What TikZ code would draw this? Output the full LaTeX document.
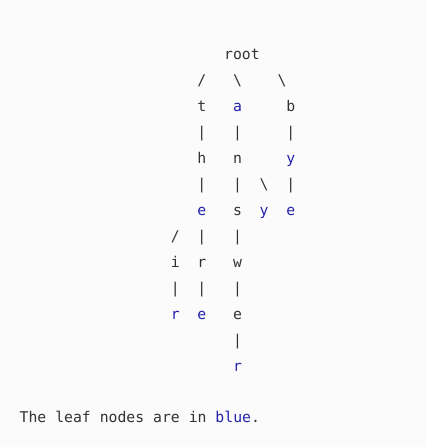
\documentclass[tikz,border=0pt]{standalone}
\usepackage{fontspec}
\newfontfamily\trimono{DejaVu Sans Mono}
\definecolor{txt}{RGB}{51,51,51}
\definecolor{leafblue}{RGB}{34,34,170}
\definecolor{bg}{RGB}{251,251,251}
\newcommand\SP{\hphantom{x}}
\newcommand\LF[1]{\textcolor{leafblue}{#1}}
\newcommand\BS{\textbackslash}
\tikzset{
  rowtext/.style={font=\trimono\fontsize{14.78}{17}\selectfont, text=txt, anchor=base west, inner sep=0pt}
}
\begin{document}
\begin{tikzpicture}[x=1pt,y=1pt]
\fill[bg] (0,0) rectangle (427,-447);
\useasboundingbox (0,0) rectangle (427,-447);
\node[rowtext] (row0)  at (170.55,-59)  {\SP\SP\SP\SP\SP\SP root};
\node[rowtext] (row1)  at (170.55,-85)  {\SP\SP\SP/\SP\SP\SP\BS\SP\SP\SP\SP\BS};
\node[rowtext] (row2)  at (170.55,-111) {\SP\SP\SP t\SP\SP\SP\LF{a}\SP\SP\SP\SP\SP b};
\node[rowtext] (row3)  at (170.55,-137) {\SP\SP\SP|\SP\SP\SP|\SP\SP\SP\SP\SP|};
\node[rowtext] (row4)  at (170.55,-163) {\SP\SP\SP h\SP\SP\SP n\SP\SP\SP\SP\SP\LF{y}};
\node[rowtext] (row5)  at (170.55,-189) {\SP\SP\SP|\SP\SP\SP|\SP\SP\BS\SP\SP|};
\node[rowtext] (row6)  at (170.55,-215) {\SP\SP\SP\LF{e}\SP\SP\SP s\SP\SP\LF{y}\SP\SP\LF{e}};
\node[rowtext] (row7)  at (170.55,-241) {/\SP\SP|\SP\SP\SP|};
\node[rowtext] (row8)  at (170.55,-267) {i\SP\SP r\SP\SP\SP w};
\node[rowtext] (row9)  at (170.55,-293) {|\SP\SP|\SP\SP\SP|};
\node[rowtext] (row10) at (170.55,-319) {\LF{r}\SP\SP\LF{e}\SP\SP\SP e};
\node[rowtext] (row11) at (170.55,-345) {\SP\SP\SP\SP\SP\SP\SP|};
\node[rowtext] (row12) at (170.55,-371) {\SP\SP\SP\SP\SP\SP\SP\LF{r}};
\node[rowtext] (cap) at (19.5,-422) {The\SP leaf\SP nodes\SP are\SP in\SP\LF{blue}.};
\end{tikzpicture}
\end{document}
